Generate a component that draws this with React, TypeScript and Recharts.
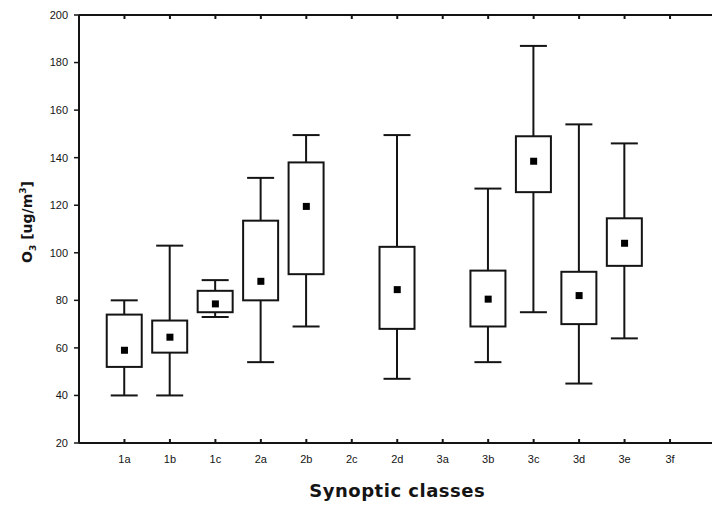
import React from 'react';
import { ComposedChart, Bar, Scatter, XAxis, YAxis } from 'recharts';

const categories = ['1a', '1b', '1c', '2a', '2b', '2c', '2d', '3a', '3b', '3c', '3d', '3e', '3f'];
const minValues = [40, 40, 73, 54, 69, null, 47, null, 54, 75, 45, 64, null];
const q1Values = [52, 58, 75, 80, 91, null, 68, null, 69, 125.5, 70, 94.5, null];
const meanValues = [59, 64.5, 78.5, 88, 119.5, null, 84.5, null, 80.5, 138.5, 82, 104, null];
const q3Values = [74, 71.5, 84, 113.5, 138, null, 102.5, null, 92.5, 149, 92, 114.5, null];
const maxValues = [80, 103, 88.5, 131.5, 149.5, null, 149.5, null, 127, 187, 154, 146, null];
const yTicks = [20, 40, 60, 80, 100, 120, 140, 160, 180, 200];
const xTicks = categories.map((_, i) => i + 1);

const data = categories
  .map((name, i) => ({
    x: i + 1,
    name,
    box: [q1Values[i], q3Values[i]],
    lo: [minValues[i], q1Values[i]],
    hi: [q3Values[i], maxValues[i]],
    mean: meanValues[i],
  }))
  .filter((d) => d.mean !== null);

const INK = '#141414';
const tickFont = { fontFamily: '"Liberation Sans", Arial, sans-serif', fontSize: 11, fill: INK };
const frame = { stroke: INK, strokeWidth: 2 };
const LABEL_GAP = 12;

const BoxShape = (props: any) => {
  const { x, y, width, height } = props;
  const top = Math.min(y, y + height);
  const h = Math.abs(height);
  return <rect x={x} y={top} width={width} height={h} fill="#fff" stroke={INK} strokeWidth={2} />;
};

// whisker: vertical line through the middle, cap at the outer end
const makeWhisker = (capAtTop: boolean) => (props: any) => {
  const { x, y, width, height } = props;
  const top = Math.min(y, y + height);
  const bottom = Math.max(y, y + height);
  const cx = x + width / 2;
  const capY = capAtTop ? top : bottom;
  return (
    <g>
      <line x1={cx} x2={cx} y1={top} y2={bottom} stroke={INK} strokeWidth={2} />
      <line x1={x} x2={x + width} y1={capY} y2={capY} stroke={INK} strokeWidth={2} />
    </g>
  );
};

const MeanShape = (props: any) => (
  <rect x={props.cx - 3.5} y={props.cy - 3.5} width={7} height={7} fill="#000" />
);

// inward tick marks drawn from the axis tick position
const BottomTick = (props: any) => {
  const { x, y, payload } = props;
  return (
    <g>
      <path d={`M${x},${y - LABEL_GAP}L${x},${y - LABEL_GAP - 4}`} stroke={INK} strokeWidth={2} fill="none" />
      <text x={x} y={y} dy={8} textAnchor="middle" fontFamily='"Liberation Sans", Arial, sans-serif' fontSize={11} fill={INK}>
        {categories[payload.value - 1]}
      </text>
    </g>
  );
};

const TopTick = (props: any) => {
  const { x, y } = props;
  return <path d={`M${x},${y}L${x},${y + 4}`} stroke={INK} strokeWidth={2} fill="none" />;
};

const RightTick = (props: any) => {
  const { x, y } = props;
  return <path d={`M${x},${y}L${x - 4},${y}`} stroke={INK} strokeWidth={2} fill="none" />;
};

const YTitle = (props: any) => {
  const { viewBox } = props;
  const cx = viewBox.x + 13;
  const cy = viewBox.y + viewBox.height / 2 - 7;
  return (
    <text
      x={cx}
      y={cy}
      transform={`rotate(-90, ${cx}, ${cy})`}
      textAnchor="middle"
      style={{ fontFamily: '"DejaVu Sans", sans-serif', fontWeight: 'bold', fontSize: 14, fill: INK }}
    >
      O<tspan dy={4} fontSize={9}>3</tspan>
      <tspan dy={-4}> [ug/m</tspan>
      <tspan dy={-6} fontSize={9}>3</tspan>
      <tspan dy={6}>]</tspan>
    </text>
  );
};

const App: React.FC = () => {
  return (
    <div style={{ position: 'absolute', left: 0, top: 0, width: 712, height: 507, overflow: 'hidden', background: '#fff' }}>
      <ComposedChart width={720} height={507} data={data} margin={{ top: 14, right: 3.5, left: 19, bottom: 0 }}>
        <XAxis
          dataKey="x"
          type="number"
          domain={[0, 14]}
          ticks={xTicks}
          interval={0}
          height={64}
          tickSize={0}
          tickMargin={LABEL_GAP}
          tickLine={false}
          tick={BottomTick}
          axisLine={frame}
          label={{
            value: 'Synoptic classes',
            position: 'insideBottom',
            offset: 10,
            style: { fontFamily: '"DejaVu Sans", sans-serif', fontWeight: 'bold', fontSize: 18, fill: INK, letterSpacing: 0.5 },
          }}
        />
        <XAxis
          xAxisId="top"
          orientation="top"
          dataKey="x"
          type="number"
          domain={[0, 14]}
          ticks={xTicks}
          interval={0}
          height={1}
          tickSize={0}
          tickMargin={0}
          tickLine={false}
          tick={TopTick}
          axisLine={frame}
        />
        <XAxis xAxisId="lo" dataKey="x" type="number" domain={[0, 14]} hide />
        <XAxis xAxisId="hi" dataKey="x" type="number" domain={[0, 14]} hide />
        <YAxis
          type="number"
          domain={[20, 200]}
          ticks={yTicks}
          interval={0}
          width={60}
          tickSize={5}
          tickMargin={6}
          tick={tickFont}
          tickLine={{ stroke: INK, strokeWidth: 1.5 }}
          axisLine={frame}
          label={{ content: <YTitle /> }}
        />
        <YAxis
          yAxisId="right"
          orientation="right"
          type="number"
          domain={[20, 200]}
          ticks={yTicks}
          interval={0}
          width={1}
          tickSize={0}
          tickMargin={0}
          tickLine={false}
          tick={RightTick}
          axisLine={frame}
        />
        <Bar xAxisId="lo" dataKey="lo" barSize={27} shape={makeWhisker(false)} isAnimationActive={false} />
        <Bar xAxisId="hi" dataKey="hi" barSize={27} shape={makeWhisker(true)} isAnimationActive={false} />
        <Bar dataKey="box" barSize={35} shape={BoxShape} isAnimationActive={false} />
        <Scatter dataKey="mean" shape={MeanShape} isAnimationActive={false} />
      </ComposedChart>
    </div>
  );
};

export default App;
